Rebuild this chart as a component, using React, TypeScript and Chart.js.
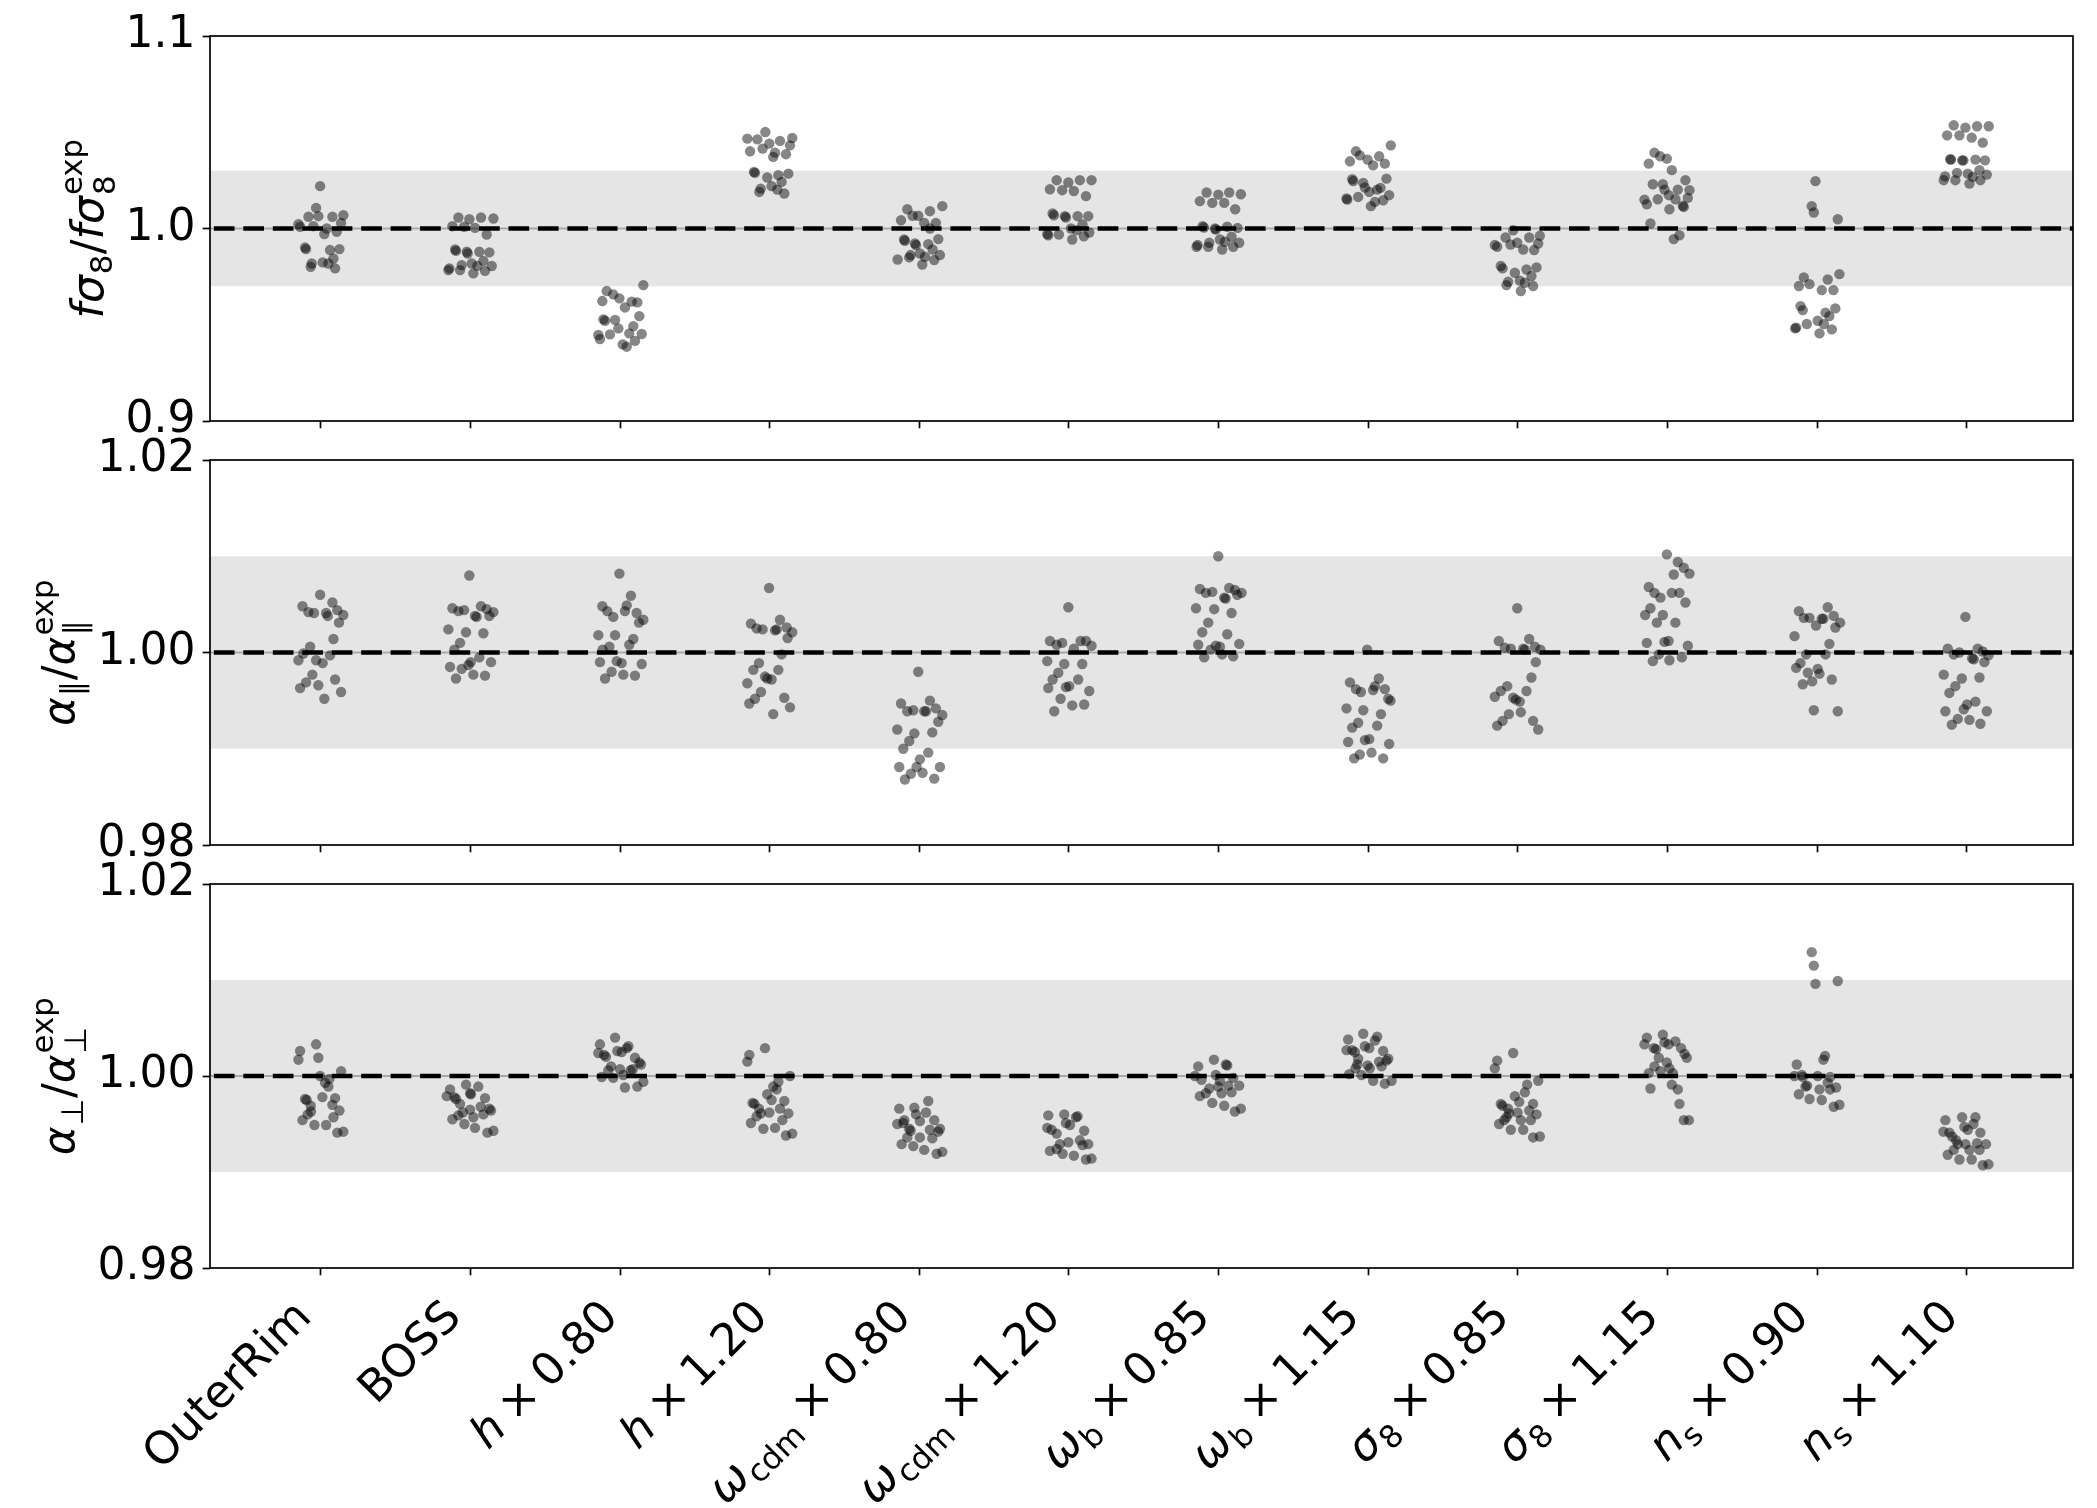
import React, { useEffect, useRef } from 'react';
import { Chart, registerables } from 'chart.js';
Chart.register(...registerables);

type Pt = [number, number];
type Run = { t?: string; it?: boolean; sub?: string; sup?: string; gap?: number };

// ---------------- data ----------------
const categories = ['OuterRim', 'BOSS', 'h×0.80', 'h×1.20', 'ωcdm×0.80', 'ωcdm×1.20', 'ωb×0.85', 'ωb×1.15', 'σ8×0.85', 'σ8×1.15', 'ns×0.90', 'ns×1.10'];

const times = (f: string): Run[] => [{ gap: 0.22 }, { t: '×' }, { gap: 0.22 }, { t: f }];

const xTickLabels: Run[][] = [
  [{ t: 'OuterRim' }],
  [{ t: 'BOSS' }],
  [{ t: 'h', it: true }, ...times('0.80')],
  [{ t: 'h', it: true }, ...times('1.20')],
  [{ t: 'ω', it: true }, { sub: 'cdm' }, ...times('0.80')],
  [{ t: 'ω', it: true }, { sub: 'cdm' }, ...times('1.20')],
  [{ t: 'ω', it: true }, { sub: 'b' }, ...times('0.85')],
  [{ t: 'ω', it: true }, { sub: 'b' }, ...times('1.15')],
  [{ t: 'σ', it: true }, { sub: '8' }, ...times('0.85')],
  [{ t: 'σ', it: true }, { sub: '8' }, ...times('1.15')],
  [{ t: 'n', it: true }, { sub: 's' }, ...times('0.90')],
  [{ t: 'n', it: true }, { sub: 's' }, ...times('1.10')],
];

const fsTitle: Run[] = [{ t: 'f', it: true }, { t: 'σ', it: true }, { sub: '8' }, { t: '/' }, { t: 'f', it: true }, { t: 'σ', it: true }, { sub: '8', sup: 'exp' }];
const aparTitle: Run[] = [{ t: 'α', it: true }, { sub: '∥' }, { t: '/' }, { t: 'α', it: true }, { sub: '∥', sup: 'exp' }];
const aperpTitle: Run[] = [{ t: 'α', it: true }, { sub: '⊥' }, { t: '/' }, { t: 'α', it: true }, { sub: '⊥', sup: 'exp' }];

const fsTicks = [0.9, 1.0, 1.1];
const alphaTicks = [0.98, 1.0, 1.02];
const fsBand = [0.97, 1.03];
const alphaBand = [0.99, 1.01];
const refValue = 1.0;

// each entry: [jitter offset from category, value]
const fsig8Values: Pt[][] = [
  [[-0.004,1.0220],[-0.031,1.0107],[-0.082,1.0061],[-0.016,1.0064],[0.078,1.0061],[0.151,1.0069],[-0.149,1.0022],[-0.138,1.0009],[-0.049,1.0012],[0.040,1.0000],[0.136,1.0029],[0.024,0.9971],[0.107,0.9983],[-0.105,0.9901],[-0.098,0.9893],[0.062,0.9888],[0.125,0.9893],[0.085,0.9844],[-0.060,0.9818],[-0.067,0.9801],[0.013,0.9824],[0.051,0.9818],[0.096,0.9793]],
  [[-0.080,1.0057],[-0.007,1.0048],[0.071,1.0057],[0.154,1.0052],[-0.120,1.0012],[-0.042,1.0009],[0.031,1.0003],[0.109,0.9969],[-0.102,0.9891],[-0.096,0.9884],[-0.024,0.9879],[-0.018,0.9870],[0.060,0.9879],[0.127,0.9876],[0.087,0.9832],[0.009,0.9818],[0.047,0.9806],[0.143,0.9805],[-0.140,0.9793],[-0.147,0.9784],[-0.058,0.9810],[-0.069,0.9784],[0.020,0.9767],[0.098,0.9780]],
  [[0.156,0.9706],[-0.089,0.9675],[-0.045,0.9658],[-0.004,0.9637],[-0.118,0.9623],[0.078,0.9620],[0.116,0.9616],[0.033,0.9590],[0.129,0.9545],[-0.111,0.9528],[-0.100,0.9521],[-0.033,0.9525],[-0.011,0.9481],[0.089,0.9493],[0.062,0.9455],[-0.067,0.9450],[-0.145,0.9447],[-0.134,0.9426],[0.145,0.9452],[0.100,0.9416],[0.018,0.9398],[0.045,0.9386]],
  [[-0.029,1.0501],[-0.149,1.0467],[-0.082,1.0463],[-0.002,1.0441],[0.069,1.0455],[0.151,1.0470],[0.136,1.0432],[-0.131,1.0401],[-0.047,1.0415],[0.036,1.0394],[0.024,1.0372],[0.109,1.0386],[-0.105,1.0294],[-0.098,1.0289],[-0.016,1.0265],[0.058,1.0277],[0.125,1.0285],[0.080,1.0242],[-0.060,1.0207],[-0.069,1.0190],[0.013,1.0220],[0.051,1.0202],[0.098,1.0182]],
  [[-0.080,1.0100],[0.154,1.0116],[0.071,1.0090],[-0.045,1.0066],[-0.007,1.0066],[-0.122,1.0043],[0.033,1.0029],[0.111,1.0029],[0.071,1.0000],[-0.102,0.9943],[-0.096,0.9936],[-0.029,0.9922],[-0.022,0.9914],[0.060,0.9919],[0.127,0.9945],[0.089,0.9891],[0.004,0.9870],[-0.058,0.9862],[0.038,0.9853],[0.138,0.9862],[-0.145,0.9839],[-0.067,0.9850],[0.100,0.9836],[0.020,0.9813]],
  [[-0.082,1.0251],[-0.004,1.0239],[0.073,1.0251],[0.151,1.0251],[-0.127,1.0204],[-0.045,1.0199],[0.033,1.0195],[0.114,1.0168],[-0.109,1.0078],[-0.100,1.0069],[-0.027,1.0064],[-0.020,1.0057],[0.058,1.0064],[0.129,1.0064],[0.091,1.0021],[0.013,1.0000],[0.051,0.9991],[0.136,0.9979],[-0.145,0.9971],[-0.138,0.9965],[-0.067,0.9969],[0.022,0.9943],[0.100,0.9960]],
  [[-0.080,1.0187],[-0.002,1.0176],[0.071,1.0187],[0.149,1.0178],[-0.125,1.0142],[-0.042,1.0133],[0.038,1.0133],[0.111,1.0100],[-0.107,1.0012],[-0.098,1.0005],[-0.024,1.0000],[-0.018,0.9995],[0.058,1.0009],[0.127,1.0003],[0.087,0.9957],[0.009,0.9943],[0.042,0.9931],[0.138,0.9926],[-0.140,0.9914],[-0.147,0.9905],[-0.062,0.9926],[-0.069,0.9905],[0.024,0.9891],[0.098,0.9905]],
  [[0.151,1.0432],[-0.082,1.0401],[-0.056,1.0380],[-0.004,1.0358],[0.073,1.0375],[-0.122,1.0349],[0.033,1.0328],[0.111,1.0337],[0.122,1.0259],[-0.107,1.0256],[-0.100,1.0247],[-0.033,1.0237],[-0.022,1.0213],[0.060,1.0202],[0.082,1.0211],[0.007,1.0190],[-0.067,1.0164],[-0.145,1.0156],[-0.140,1.0150],[0.140,1.0173],[0.100,1.0147],[0.045,1.0138],[0.018,1.0116]],
  [[-0.031,0.9991],[-0.082,0.9953],[0.076,0.9953],[0.147,0.9962],[-0.154,0.9914],[-0.138,0.9905],[-0.049,0.9917],[-0.004,0.9926],[0.036,0.9891],[0.109,0.9888],[0.136,0.9922],[-0.114,0.9805],[-0.102,0.9793],[-0.020,0.9770],[0.058,0.9787],[0.125,0.9798],[0.091,0.9753],[0.013,0.9729],[0.047,0.9718],[-0.065,0.9723],[-0.076,0.9706],[0.102,0.9701],[0.020,0.9675]],
  [[-0.087,1.0394],[-0.049,1.0375],[-0.004,1.0363],[-0.125,1.0337],[0.029,1.0303],[0.120,1.0251],[-0.098,1.0230],[-0.031,1.0230],[-0.020,1.0202],[0.069,1.0202],[0.147,1.0199],[0.009,1.0173],[-0.154,1.0150],[-0.138,1.0126],[-0.065,1.0152],[0.053,1.0152],[0.136,1.0159],[0.102,1.0118],[0.109,1.0112],[0.013,1.0100],[-0.114,1.0026],[0.080,0.9965],[0.042,0.9945]],
  [[-0.011,1.0246],[-0.036,1.0116],[-0.022,1.0083],[0.138,1.0048],[0.149,0.9763],[-0.089,0.9746],[-0.122,0.9701],[-0.051,0.9711],[0.071,0.9735],[0.031,0.9680],[0.109,0.9680],[-0.111,0.9597],[-0.096,0.9576],[0.056,0.9563],[0.122,0.9585],[0.082,0.9545],[0.004,0.9521],[0.045,0.9504],[-0.069,0.9504],[-0.140,0.9485],[-0.147,0.9481],[0.098,0.9476],[0.016,0.9455]],
  [[-0.087,1.0536],[-0.009,1.0524],[0.069,1.0531],[0.147,1.0531],[-0.131,1.0484],[-0.049,1.0484],[0.033,1.0472],[0.107,1.0446],[-0.111,1.0360],[-0.105,1.0358],[-0.031,1.0354],[-0.022,1.0354],[0.058,1.0358],[0.122,1.0354],[0.085,1.0303],[-0.065,1.0289],[0.007,1.0285],[0.040,1.0268],[0.134,1.0280],[-0.145,1.0271],[-0.154,1.0251],[-0.076,1.0251],[0.018,1.0233],[0.091,1.0251]],
];

const aparValues: Pt[][] = [
  [[-0.004,1.0060],[-0.122,1.0048],[0.078,1.0052],[-0.082,1.0042],[-0.045,1.0041],[0.036,1.0041],[0.047,1.0038],[0.111,1.0044],[0.151,1.0039],[0.122,1.0031],[0.085,1.0014],[-0.071,1.0006],[-0.116,0.9999],[-0.031,0.9992],[-0.149,0.9992],[0.013,0.9989],[0.062,0.9997],[-0.056,0.9977],[-0.098,0.9969],[-0.016,0.9966],[0.096,0.9972],[-0.138,0.9963],[0.136,0.9959],[0.024,0.9952]],
  [[-0.007,1.0080],[-0.120,1.0046],[-0.080,1.0043],[-0.042,1.0044],[0.071,1.0048],[0.109,1.0045],[0.154,1.0042],[0.127,1.0038],[0.031,1.0038],[0.042,1.0037],[-0.147,1.0024],[-0.029,1.0021],[0.087,1.0020],[-0.069,1.0010],[-0.107,1.0003],[0.060,0.9995],[0.002,0.9990],[-0.013,0.9987],[-0.136,0.9985],[-0.058,0.9983],[0.138,0.9990],[0.020,0.9977],[0.098,0.9976],[-0.096,0.9973]],
  [[-0.004,1.0082],[0.073,1.0059],[0.045,1.0049],[-0.118,1.0048],[-0.085,1.0043],[-0.045,1.0037],[0.033,1.0043],[0.111,1.0041],[0.156,1.0034],[0.127,1.0031],[-0.145,1.0018],[-0.033,1.0018],[0.089,1.0014],[0.062,1.0008],[-0.071,1.0006],[-0.116,1.0003],[-0.134,0.9990],[-0.022,0.9991],[0.011,0.9989],[0.145,0.9988],[-0.056,0.9980],[0.022,0.9977],[0.100,0.9976],[-0.100,0.9973]],
  [[-0.004,1.0067],[-0.125,1.0030],[0.069,1.0034],[-0.087,1.0025],[-0.047,1.0024],[0.036,1.0023],[0.047,1.0024],[0.114,1.0026],[0.151,1.0021],[0.120,1.0015],[0.080,0.9998],[-0.071,0.9989],[-0.109,0.9982],[0.058,0.9982],[-0.031,0.9975],[-0.016,0.9973],[0.013,0.9972],[-0.149,0.9968],[-0.058,0.9959],[-0.098,0.9952],[-0.136,0.9947],[0.098,0.9953],[0.136,0.9943],[0.024,0.9936]],
  [[-0.007,0.9980],[-0.122,0.9947],[0.071,0.9950],[-0.080,0.9939],[-0.040,0.9940],[0.033,0.9939],[0.045,0.9939],[0.111,0.9942],[0.154,0.9935],[0.127,0.9928],[-0.147,0.9920],[-0.033,0.9916],[0.087,0.9917],[-0.067,0.9908],[-0.107,0.9900],[0.060,0.9896],[0.004,0.9889],[-0.018,0.9881],[-0.134,0.9881],[0.138,0.9881],[-0.056,0.9874],[0.022,0.9875],[-0.096,0.9868],[0.100,0.9869]],
  [[-0.004,1.0047],[-0.127,1.0012],[-0.082,1.0008],[-0.045,1.0010],[0.078,1.0012],[0.114,1.0012],[0.033,1.0004],[0.151,1.0007],[-0.145,0.9991],[-0.031,0.9988],[0.089,0.9988],[-0.071,0.9979],[-0.109,0.9972],[0.062,0.9972],[-0.020,0.9964],[0.002,0.9965],[-0.138,0.9963],[0.136,0.9960],[-0.056,0.9952],[0.022,0.9945],[0.102,0.9946],[-0.098,0.9939]],
  [[-0.002,1.0100],[-0.125,1.0066],[-0.085,1.0062],[-0.042,1.0063],[0.038,1.0057],[0.047,1.0056],[0.071,1.0067],[0.109,1.0065],[0.125,1.0060],[0.154,1.0062],[-0.151,1.0046],[-0.029,1.0045],[0.087,1.0041],[-0.069,1.0031],[-0.109,1.0021],[0.058,1.0019],[-0.136,1.0008],[-0.053,1.0003],[-0.018,1.0007],[0.009,1.0006],[0.138,1.0009],[-0.096,0.9995],[0.024,0.9998],[0.098,0.9996]],
  [[-0.007,1.0003],[-0.122,0.9969],[0.071,0.9973],[-0.082,0.9962],[-0.049,0.9959],[0.033,0.9961],[0.045,0.9965],[0.111,0.9962],[0.134,0.9952],[0.149,0.9950],[-0.145,0.9942],[-0.033,0.9940],[0.085,0.9936],[-0.067,0.9927],[-0.107,0.9922],[0.060,0.9924],[-0.134,0.9907],[-0.022,0.9909],[0.007,0.9910],[0.140,0.9905],[-0.056,0.9894],[-0.094,0.9890],[0.022,0.9896],[0.100,0.9890]],
  [[-0.004,1.0046],[-0.127,1.0012],[0.076,1.0014],[-0.087,1.0005],[-0.047,1.0004],[0.036,1.0004],[0.047,1.0003],[0.114,1.0006],[0.151,1.0003],[0.120,0.9990],[0.091,0.9974],[-0.071,0.9965],[-0.114,0.9960],[0.058,0.9960],[-0.154,0.9954],[-0.031,0.9953],[-0.013,0.9951],[0.013,0.9949],[-0.060,0.9936],[0.020,0.9938],[-0.102,0.9929],[-0.138,0.9924],[0.102,0.9929],[0.136,0.9920]],
  [[-0.004,1.0102],[0.069,1.0094],[0.109,1.0088],[0.147,1.0082],[0.042,1.0081],[-0.125,1.0068],[-0.087,1.0062],[-0.047,1.0057],[0.029,1.0062],[0.080,1.0062],[0.120,1.0052],[-0.114,1.0046],[-0.149,1.0039],[-0.031,1.0039],[-0.071,1.0031],[0.053,1.0031],[-0.138,1.0010],[-0.020,1.0011],[0.007,1.0012],[0.136,1.0007],[-0.058,0.9998],[-0.098,0.9991],[0.013,0.9992],[0.096,0.9995]],
  [[-0.122,1.0043],[0.071,1.0047],[-0.089,1.0036],[-0.051,1.0036],[0.031,1.0035],[0.042,1.0035],[0.111,1.0038],[0.154,1.0031],[-0.007,1.0028],[0.122,1.0026],[-0.151,1.0017],[0.082,1.0009],[-0.073,0.9998],[0.056,0.9998],[-0.111,0.9989],[-0.140,0.9984],[0.004,0.9983],[-0.062,0.9979],[0.016,0.9978],[-0.033,0.9970],[-0.096,0.9967],[0.098,0.9972],[-0.022,0.9940],[0.138,0.9939]],
  [[-0.009,1.0037],[-0.127,1.0004],[-0.087,0.9998],[-0.049,1.0000],[0.073,1.0004],[0.107,1.0001],[0.036,0.9994],[0.047,0.9993],[0.145,0.9997],[0.118,0.9990],[-0.154,0.9977],[-0.033,0.9973],[0.085,0.9974],[-0.076,0.9965],[-0.116,0.9958],[0.058,0.9949],[0.002,0.9946],[-0.020,0.9941],[-0.143,0.9939],[0.134,0.9939],[-0.060,0.9931],[0.018,0.9930],[-0.100,0.9925],[0.091,0.9926]],
];

const aperpValues: Pt[][] = [
  [[-0.031,1.0033],[-0.138,1.0026],[-0.149,1.0017],[-0.016,1.0019],[0.136,1.0005],[-0.004,1.0000],[0.058,0.9997],[0.029,0.9993],[0.051,0.9989],[-0.105,0.9976],[-0.094,0.9975],[0.011,0.9978],[0.096,0.9977],[-0.067,0.9969],[0.078,0.9970],[-0.065,0.9963],[0.125,0.9964],[-0.087,0.9960],[-0.122,0.9954],[0.085,0.9957],[-0.042,0.9949],[0.036,0.9949],[0.111,0.9941],[0.151,0.9942]],
  [[-0.029,0.9991],[0.053,0.9989],[-0.136,0.9986],[-0.002,0.9982],[0.004,0.9981],[-0.158,0.9979],[-0.107,0.9978],[-0.096,0.9976],[0.098,0.9977],[-0.069,0.9971],[-0.002,0.9965],[0.069,0.9968],[0.127,0.9966],[0.138,0.9964],[-0.051,0.9962],[0.087,0.9960],[0.020,0.9957],[-0.080,0.9959],[-0.120,0.9955],[-0.040,0.9950],[0.031,0.9946],[0.114,0.9941],[0.154,0.9943]],
  [[-0.033,1.0040],[-0.134,1.0033],[-0.145,1.0024],[-0.107,1.0022],[-0.094,1.0020],[-0.018,1.0026],[0.011,1.0025],[0.056,1.0031],[0.045,1.0029],[0.100,1.0019],[0.129,1.0014],[0.140,1.0012],[-0.060,1.0010],[-0.078,1.0006],[0.000,1.0007],[0.085,1.0007],[0.071,1.0006],[-0.122,0.9999],[-0.045,0.9998],[0.022,1.0001],[0.156,0.9994],[0.033,0.9988],[0.116,0.9989]],
  [[-0.031,1.0029],[-0.136,1.0022],[-0.149,1.0015],[0.136,1.0000],[0.058,0.9994],[0.024,0.9989],[0.047,0.9986],[-0.016,0.9981],[0.013,0.9975],[-0.114,0.9972],[-0.102,0.9971],[0.098,0.9974],[-0.071,0.9966],[0.069,0.9966],[-0.058,0.9961],[-0.002,0.9962],[0.125,0.9961],[-0.087,0.9958],[-0.125,0.9951],[0.085,0.9954],[-0.042,0.9945],[0.036,0.9946],[0.109,0.9938],[0.151,0.9940]],
  [[0.060,0.9974],[-0.134,0.9966],[-0.033,0.9967],[0.045,0.9962],[-0.022,0.9960],[0.004,0.9953],[-0.100,0.9954],[-0.147,0.9950],[-0.107,0.9951],[0.100,0.9954],[-0.067,0.9945],[-0.058,0.9943],[0.071,0.9944],[0.138,0.9945],[0.127,0.9942],[0.004,0.9936],[-0.080,0.9936],[0.087,0.9935],[-0.118,0.9929],[-0.040,0.9927],[0.033,0.9923],[0.116,0.9919],[0.154,0.9921]],
  [[-0.138,0.9959],[-0.031,0.9960],[0.058,0.9958],[0.047,0.9957],[-0.020,0.9951],[0.007,0.9949],[-0.145,0.9946],[-0.116,0.9944],[-0.082,0.9940],[0.102,0.9943],[-0.060,0.9929],[-0.004,0.9931],[0.073,0.9933],[0.091,0.9928],[0.129,0.9929],[-0.127,0.9922],[-0.082,0.9924],[-0.042,0.9919],[0.033,0.9917],[0.114,0.9913],[0.151,0.9914]],
  [[-0.031,1.0017],[-0.136,1.0010],[0.049,1.0012],[0.058,1.0011],[-0.018,1.0001],[-0.158,1.0000],[-0.114,0.9996],[0.009,0.9995],[0.098,0.9998],[0.065,0.9990],[0.138,0.9990],[-0.062,0.9987],[-0.002,0.9989],[-0.085,0.9982],[0.020,0.9982],[0.087,0.9983],[-0.125,0.9979],[-0.042,0.9972],[0.038,0.9969],[0.109,0.9963],[0.149,0.9966]],
  [[-0.033,1.0044],[-0.134,1.0038],[0.060,1.0041],[0.045,1.0037],[-0.022,1.0031],[0.007,1.0029],[-0.145,1.0027],[-0.107,1.0027],[-0.089,1.0025],[0.100,1.0026],[-0.067,1.0018],[0.134,1.0018],[0.122,1.0016],[0.073,1.0015],[0.089,1.0010],[-0.073,1.0012],[-0.004,1.0011],[0.011,1.0008],[-0.085,1.0008],[-0.127,1.0002],[-0.045,1.0001],[0.033,0.9995],[0.111,0.9992],[0.156,0.9995]],
  [[-0.031,1.0024],[-0.138,1.0016],[-0.154,1.0008],[0.062,0.9991],[0.136,0.9995],[0.047,0.9983],[-0.020,0.9979],[0.009,0.9973],[-0.114,0.9971],[-0.102,0.9969],[0.102,0.9971],[-0.065,0.9966],[0.076,0.9964],[-0.002,0.9962],[0.125,0.9960],[-0.076,0.9957],[-0.058,0.9961],[0.020,0.9954],[0.087,0.9954],[-0.125,0.9950],[-0.091,0.9954],[-0.047,0.9944],[0.036,0.9944],[0.102,0.9936],[0.147,0.9937]],
  [[-0.031,1.0043],[-0.138,1.0040],[-0.154,1.0033],[0.053,1.0036],[-0.020,1.0035],[0.007,1.0033],[-0.091,1.0029],[-0.076,1.0028],[0.091,1.0029],[0.114,1.0023],[0.129,1.0019],[-0.058,1.0019],[-0.004,1.0014],[-0.087,1.0010],[0.013,1.0008],[0.036,1.0003],[-0.125,1.0003],[-0.047,1.0005],[0.029,0.9991],[-0.114,0.9987],[0.069,0.9986],[0.080,0.9971],[0.109,0.9954],[0.143,0.9954]],
  [[-0.036,1.0129],[-0.022,1.0115],[-0.011,1.0096],[0.138,1.0099],[0.053,1.0021],[0.042,1.0017],[-0.136,1.0012],[-0.151,1.0000],[-0.102,1.0001],[-0.096,0.9999],[0.004,1.0000],[0.087,0.9999],[-0.067,0.9990],[-0.078,0.9989],[0.071,0.9993],[0.016,0.9986],[0.087,0.9986],[0.127,0.9988],[-0.122,0.9981],[-0.051,0.9976],[0.031,0.9975],[0.111,0.9968],[0.149,0.9970]],
  [[-0.031,0.9957],[0.058,0.9957],[-0.143,0.9954],[-0.016,0.9947],[0.045,0.9950],[0.007,0.9944],[-0.156,0.9942],[-0.116,0.9941],[0.091,0.9941],[-0.098,0.9937],[-0.071,0.9933],[-0.060,0.9929],[-0.009,0.9929],[0.069,0.9930],[0.129,0.9929],[-0.087,0.9923],[0.018,0.9923],[0.085,0.9923],[-0.127,0.9918],[-0.049,0.9913],[0.033,0.9913],[0.107,0.9907],[0.145,0.9908]],
];

// ---------------- layout / style ----------------
const W = 2097;
const H = 1508;
const LEFT = 210;
const RIGHT = 2073;
const X_MIN = -0.74;
const X_MAX = 11.71;
const TICK_LEN = 7.3;
const TICK_W = 1.7;
const PAD = 7.3;
const FS = 44;
const XFS = 45;
const XLABEL_EXTRA = 12;
const FONT = '"DejaVu Sans", sans-serif';
const POINT_COLOR = 'rgba(0,0,0,0.47)';

type PanelCfg = {
  values: Pt[][];
  ticks: number[];
  digits: number;
  band: number[];
  title: Run[];
  top: number;
  bottom: number;
  titleX: number;
  labels: boolean;
};

const panels: PanelCfg[] = [
  { values: fsig8Values, ticks: fsTicks, digits: 1, band: fsBand, title: fsTitle, top: 36, bottom: 421, titleX: 103, labels: false },
  { values: aparValues, ticks: alphaTicks, digits: 2, band: alphaBand, title: aparTitle, top: 460, bottom: 845, titleX: 74, labels: false },
  { values: aperpValues, ticks: alphaTicks, digits: 2, band: alphaBand, title: aperpTitle, top: 884, bottom: 1268, titleX: 74, labels: true },
];

function fnt(size: number, it = false) {
  return `${it ? 'italic ' : ''}${size}px ${FONT}`;
}

function runWidth(ctx: CanvasRenderingContext2D, r: Run, size: number) {
  if (r.gap !== undefined) return r.gap * size;
  if (r.sub !== undefined || r.sup !== undefined) {
    ctx.font = fnt(size * 0.7);
    const a = r.sub ? ctx.measureText(r.sub).width : 0;
    const b = r.sup ? ctx.measureText(r.sup).width : 0;
    return Math.max(a, b) + size * 0.03;
  }
  ctx.font = fnt(size, r.it);
  return ctx.measureText(r.t || '').width;
}

function runsWidth(ctx: CanvasRenderingContext2D, runs: Run[], size: number) {
  return runs.reduce((s, r) => s + runWidth(ctx, r, size), 0);
}

function drawRuns(ctx: CanvasRenderingContext2D, runs: Run[], size: number, x: number, y: number) {
  let cx = x;
  ctx.textAlign = 'left';
  ctx.textBaseline = 'alphabetic';
  for (const r of runs) {
    if (r.gap !== undefined) {
      // spacing only
    } else if (r.sub !== undefined || r.sup !== undefined) {
      ctx.font = fnt(size * 0.7);
      const stacked = r.sub !== undefined && r.sup !== undefined;
      if (r.sub) ctx.fillText(r.sub, cx + size * 0.02, y + size * (stacked ? 0.27 : 0.2));
      if (r.sup) ctx.fillText(r.sup, cx + size * 0.02, y - size * 0.47);
    } else {
      ctx.font = fnt(size, r.it);
      ctx.fillText(r.t || '', cx, y);
    }
    cx += runWidth(ctx, r, size);
  }
}

function Panel({ cfg }: { cfg: PanelCfg }) {
  const ref = useRef<HTMLCanvasElement>(null);
  useEffect(() => {
    const canvas = ref.current!;
    const points = cfg.values.flatMap((pts, i) => pts.map(([dx, v]) => ({ x: i + dx, y: v })));

    const deco = {
      id: 'deco',
      beforeDatasetsDraw(chart: any) {
        const { ctx, chartArea: a, scales } = chart;
        const ys = scales.y;
        ctx.save();
        const y1 = ys.getPixelForValue(cfg.band[1]);
        const y0 = ys.getPixelForValue(cfg.band[0]);
        ctx.fillStyle = 'rgba(0,0,0,0.1)';
        ctx.fillRect(a.left, y1, a.right - a.left, y0 - y1);
        const yr = ys.getPixelForValue(refValue);
        ctx.strokeStyle = '#a9a9a9';
        ctx.lineWidth = 2;
        ctx.beginPath();
        ctx.moveTo(a.left, yr);
        ctx.lineTo(a.right, yr);
        ctx.stroke();
        ctx.strokeStyle = '#000';
        ctx.lineWidth = 4.5;
        ctx.setLineDash([20.7, 8.76]);
        ctx.lineDashOffset = 25.6;
        ctx.beginPath();
        ctx.moveTo(a.left, yr);
        ctx.lineTo(a.right, yr);
        ctx.stroke();
        ctx.restore();
      },
      afterDraw(chart: any) {
        const { ctx, chartArea: a, scales } = chart;
        ctx.save();
        ctx.strokeStyle = '#000';
        ctx.lineWidth = 1.7;
        ctx.strokeRect(a.left, a.top, a.right - a.left, a.bottom - a.top);
        ctx.fillStyle = '#000';
        // y title
        const tw = runsWidth(ctx, cfg.title, FS);
        ctx.save();
        ctx.translate(cfg.titleX, (a.top + a.bottom) / 2 + tw / 2);
        ctx.rotate(-Math.PI / 2);
        drawRuns(ctx, cfg.title, FS, 0, 0);
        ctx.restore();
        // x labels
        if (cfg.labels) {
          const y0 = a.bottom + TICK_LEN + PAD + XLABEL_EXTRA;
          const c = Math.SQRT1_2;
          xTickLabels.forEach((runs, i) => {
            const tx = scales.x.getPixelForValue(i);
            const w = runsWidth(ctx, runs, XFS);
            const isMath = runs.some((r) => r.it);
            const hasSub = runs.some((r) => r.sub !== undefined);
            const asc = 0.76 * XFS;
            const desc = (hasSub ? 0.2 : isMath ? 0.0 : 0.236) * XFS;
            ctx.save();
            ctx.translate(tx - c * (w + desc), y0 + c * (w + asc));
            ctx.rotate(-Math.PI / 4);
            drawRuns(ctx, runs, XFS, 0, 0);
            ctx.restore();
          });
        }
        ctx.restore();
      },
    };

    const tickGrid = {
      display: true,
      drawOnChartArea: false,
      drawTicks: true,
      tickLength: TICK_LEN,
      tickWidth: TICK_W,
      tickColor: '#000',
    };

    const chart = new Chart(canvas, {
      type: 'scatter',
      data: {
        datasets: [
          {
            data: points,
            pointRadius: 5.2,
            pointHoverRadius: 5.2,
            pointBackgroundColor: POINT_COLOR,
            pointBorderWidth: 0,
            pointBorderColor: 'rgba(0,0,0,0)',
          },
        ],
      },
      options: {
        responsive: false,
        animation: false,
        devicePixelRatio: 1,
        events: [],
        layout: { padding: { left: 0, right: W - RIGHT, top: cfg.top, bottom: H - cfg.bottom - TICK_LEN } },
        plugins: { legend: { display: false }, tooltip: { enabled: false } },
        scales: {
          x: {
            type: 'linear',
            min: X_MIN,
            max: X_MAX,
            afterBuildTicks: (s: any) => {
              s.ticks = categories.map((_, i) => ({ value: i }));
            },
            afterFit: (s: any) => {
              s.height = TICK_LEN;
            },
            ticks: { display: false },
            grid: tickGrid,
            border: { display: false },
          },
          y: {
            type: 'linear',
            min: cfg.ticks[0],
            max: cfg.ticks[cfg.ticks.length - 1],
            afterBuildTicks: (s: any) => {
              s.ticks = cfg.ticks.map((v) => ({ value: v }));
            },
            afterFit: (s: any) => {
              s.width = LEFT;
            },
            ticks: {
              color: '#000',
              padding: PAD,
              font: { family: FONT, size: FS },
              callback: (v: any) => Number(v).toFixed(cfg.digits),
            },
            grid: tickGrid,
            border: { display: false },
          },
        },
      } as any,
      plugins: [deco],
    });
    return () => chart.destroy();
  }, [cfg]);
  return (
    <canvas
      ref={ref}
      width={W}
      height={H}
      style={{ position: 'absolute', left: 0, top: 0, width: W, height: H }}
    />
  );
}

export default function App() {
  useEffect(() => {
    document.body.style.margin = '0';
    document.body.style.background = '#fff';
  }, []);
  return (
    <div style={{ position: 'relative', width: W, height: H, background: '#fff' }}>
      {panels.map((p, i) => (
        <Panel key={i} cfg={p} />
      ))}
    </div>
  );
}
